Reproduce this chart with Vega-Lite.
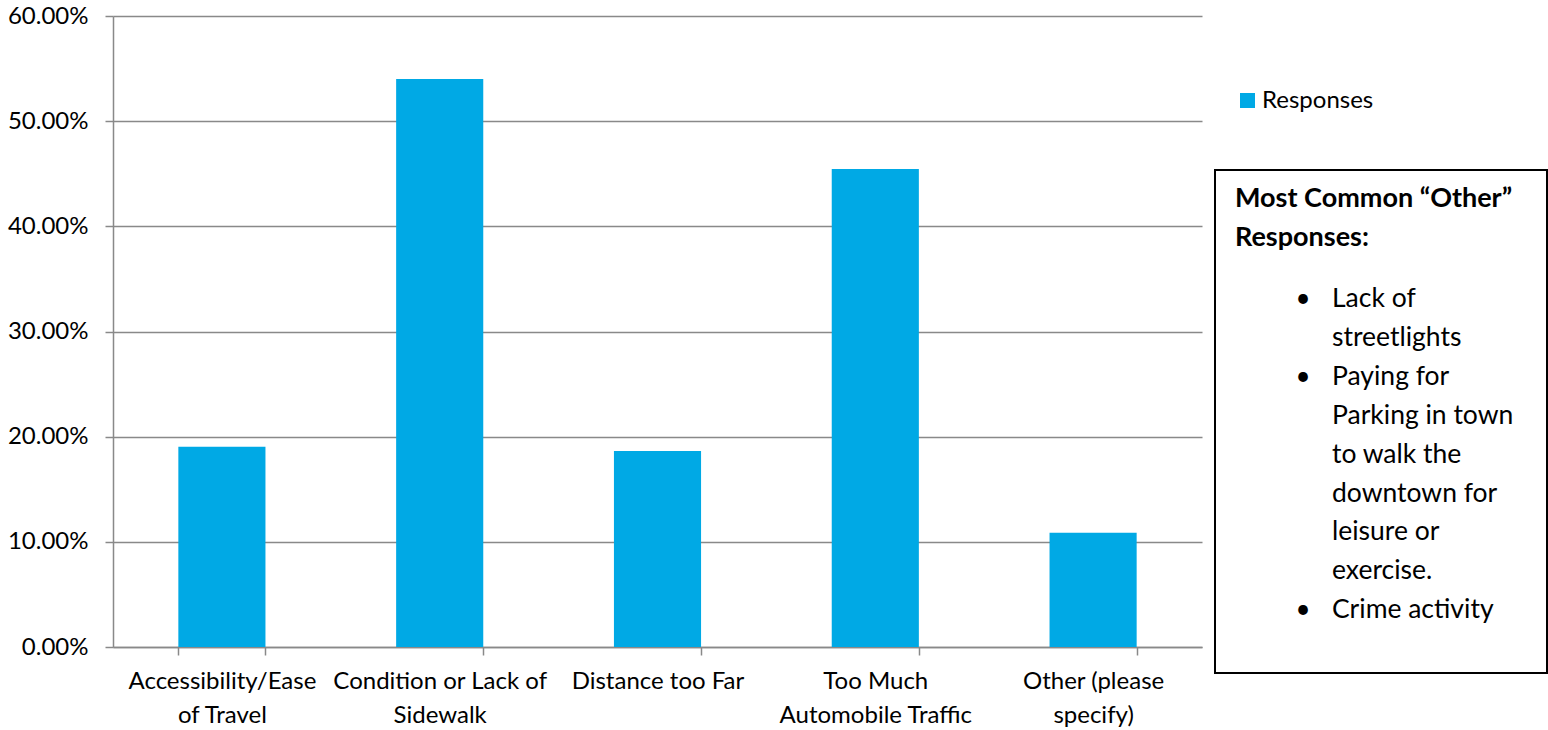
{
  "$schema": "https://vega.github.io/schema/vega-lite/v6.json",
  "background": "white",
  "padding": {"left": 7, "top": 4, "right": 2, "bottom": 2},
  "config": {
    "font": "Lato",
    "view": {"stroke": null},
    "axis": {
      "domainColor": "#898989",
      "domainWidth": 1.5,
      "tickColor": "#898989",
      "tickWidth": 1.5,
      "tickSize": 8,
      "gridColor": "#898989",
      "gridWidth": 1.5,
      "labelFont": "Lato",
      "labelFontSize": 24,
      "labelColor": "#000000",
      "title": null
    }
  },
  "datasets": {
    "responses": [
      {"category": "Accessibility/Ease of Travel", "pct": 0.1904, "series": "Responses"},
      {"category": "Condition or Lack of Sidewalk", "pct": 0.5400, "series": "Responses"},
      {"category": "Distance too Far", "pct": 0.1863, "series": "Responses"},
      {"category": "Too Much Automobile Traffic", "pct": 0.4544, "series": "Responses"},
      {"category": "Other (please specify)", "pct": 0.1087, "series": "Responses"}
    ],
    "legend": [
      {"series": "Responses"}
    ],
    "notes": [
      {"line": 1, "kind": "header", "text": "Most Common “Other”"},
      {"line": 2, "kind": "header", "text": "Responses:"},
      {"line": 3, "kind": "item", "bullet": "•", "text": "Lack of"},
      {"line": 4, "kind": "item", "text": "streetlights"},
      {"line": 5, "kind": "item", "bullet": "•", "text": "Paying for"},
      {"line": 6, "kind": "item", "text": "Parking in town"},
      {"line": 7, "kind": "item", "text": "to walk the"},
      {"line": 8, "kind": "item", "text": "downtown for"},
      {"line": 9, "kind": "item", "text": "leisure or"},
      {"line": 10, "kind": "item", "text": "exercise."},
      {"line": 11, "kind": "item", "bullet": "•", "text": "Crime activity"}
    ]
  },
  "bounds": "flush",
  "spacing": 13,
  "hconcat": [
    {
      "width": 1089,
      "height": 631,
      "data": {"name": "responses"},
      "mark": {"type": "bar", "color": "#00A9E5"},
      "encoding": {
        "x": {
          "field": "category",
          "type": "nominal",
          "sort": null,
          "scale": {"paddingInner": 0.6, "paddingOuter": 0.3},
          "axis": {
            "labelAngle": 0,
            "tickBand": "extent",
            "labelPadding": 14,
            "labelLineHeight": 34,
            "labelBaseline": "top",
            "labelExpr": "datum.value == 'Accessibility/Ease of Travel' ? ['Accessibility/Ease', 'of Travel'] : datum.value == 'Condition or Lack of Sidewalk' ? ['Condition or Lack of', 'Sidewalk'] : datum.value == 'Too Much Automobile Traffic' ? ['Too Much', 'Automobile Traffic'] : datum.value == 'Other (please specify)' ? ['Other (please', 'specify)'] : datum.value",
            "labelLimit": 300
          }
        },
        "y": {
          "field": "pct",
          "type": "quantitative",
          "scale": {"domain": [0, 0.6], "nice": false},
          "axis": {
            "values": [0, 0.1, 0.2, 0.3, 0.4, 0.5, 0.6],
            "format": ".2%",
            "labelPadding": 17,
            "grid": true
          }
        },
        "color": {
          "field": "series",
          "type": "nominal",
          "scale": {"range": ["#00A9E5"]},
          "legend": null
        }
      }
    },
    {
      "bounds": "flush",
      "spacing": 0,
      "vconcat": [
        {
          "width": 332,
          "height": 154,
          "data": {"name": "legend"},
          "layer": [
            {
              "mark": {"type": "point", "shape": "square", "filled": true, "opacity": 1, "size": 225, "xOffset": -133.5, "yOffset": 7.5},
              "encoding": {
                "color": {"field": "series", "type": "nominal", "scale": {"range": ["#00A9E5"]}, "legend": null}
              }
            },
            {
              "mark": {"type": "text", "align": "left", "baseline": "middle", "fontSize": 24, "color": "#000000", "dx": -119, "dy": 7.5},
              "encoding": {
                "text": {"field": "series"}
              }
            }
          ]
        },
        {
          "width": 332,
          "height": 503,
          "view": {"stroke": "#000000", "strokeWidth": 2},
          "data": {"name": "notes"},
          "encoding": {
            "y": {
              "field": "line",
              "type": "ordinal",
              "scale": {"type": "band", "paddingInner": 0, "paddingOuter": 0.965, "align": 0.423},
              "axis": null
            }
          },
          "layer": [
            {
              "transform": [{"filter": "datum.kind == 'header'"}],
              "mark": {"type": "text", "align": "left", "baseline": "middle", "fontSize": 27, "fontWeight": "bold", "color": "#000000", "dx": -146, "dy": -22},
              "encoding": {"text": {"field": "text"}}
            },
            {
              "transform": [{"filter": "datum.bullet != null"}],
              "mark": {"type": "text", "align": "center", "baseline": "middle", "fontSize": 26, "color": "#000000", "dx": -78},
              "encoding": {"text": {"field": "bullet"}}
            },
            {
              "transform": [{"filter": "datum.kind == 'item'"}],
              "mark": {"type": "text", "align": "left", "baseline": "middle", "fontSize": 26.5, "color": "#000000", "dx": -49},
              "encoding": {"text": {"field": "text"}}
            }
          ]
        }
      ]
    }
  ]
}
